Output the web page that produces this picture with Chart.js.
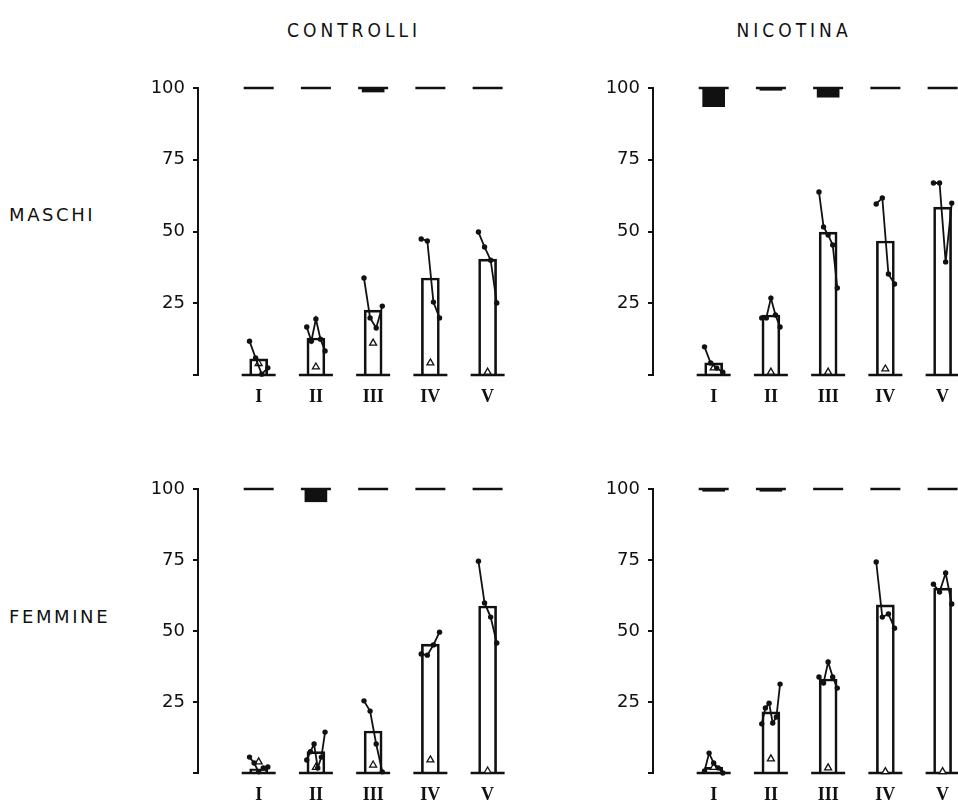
<!DOCTYPE html>
<html>
<head>
<meta charset="utf-8">
<script src="https://cdn.jsdelivr.net/npm/chart.js@4.4.1/dist/chart.umd.min.js"></script>
<style>
  html, body { margin: 0; padding: 0; background: #fff; width: 958px; height: 809px; overflow: hidden; }
  .lbl { position: absolute; color: #111; white-space: nowrap; }
  .col { font-family: "Liberation Sans Narrow", "DejaVu Sans Condensed", "DejaVu Sans", sans-serif; font-size: 19px; letter-spacing: 4px; top: 19px; transform: translateX(-50%); }
  .row { font-family: "DejaVu Sans", sans-serif; font-size: 18px; letter-spacing: 2.6px; left: 9px; }
  canvas { position: absolute; }
</style>
</head>
<body>
<div class="lbl col" style="left:354px">CONTROLLI</div>
<div class="lbl col" style="left:794px">NICOTINA</div>
<div class="lbl row" style="top:204px">MASCHI</div>
<div class="lbl row" style="top:606px">FEMMINE</div>

<canvas id="c-tl" width="430" height="360" style="left:100px;top:60px"></canvas>
<canvas id="c-tr" width="430" height="360" style="left:555px;top:60px"></canvas>
<canvas id="c-bl" width="430" height="357" style="left:100px;top:461px"></canvas>
<canvas id="c-br" width="430" height="357" style="left:555px;top:461px"></canvas>

<script>
const categories = ['I', 'II', 'III', 'IV', 'V']
const yTickValues = [0, 25, 50, 75, 100]

// CONTROLLI - MASCHI
const ctrlMaleBars      = [5.6, 12.9, 22.6, 33.8, 40.4]
const ctrlMaleTriangles = [4, 2.8, 11.1, 4.2, 1]
const ctrlMaleBlocks    = [null, null, 98.6, null, null]
const ctrlMaleLines     = [
  [11.8, 5.9, 0.3, 2.5],
  [16.7, 11.8, 19.5, 12.5, 8.4],
  [33.8, 19.9, 16.4, 24],
  [47.4, 46.7, 25.4, 19.9],
  [49.8, 44.6, 40, 25.1]
]

// NICOTINA - MASCHI
const nicMaleBars      = [4.2, 20.9, 49.8, 46.7, 58.5]
const nicMaleTriangles = [2.5, 1, 1, 2.1, null]
const nicMaleBlocks    = [93.5, 99.2, 96.8, null, null]
const nicMaleLines     = [
  [9.8, 4.2, 2.4, 1.0],
  [19.9, 19.9, 26.8, 20.9, 16.7],
  [63.8, 51.6, 48.8, 45.3, 30.3],
  [59.6, 61.7, 35.2, 31.7],
  [66.9, 66.9, 39.4, 59.9]
]

// CONTROLLI - FEMMINE
const ctrlFemBars      = [1.5, 7.5, 14.8, 45.4, 58.8]
const ctrlFemTriangles = [3.9, 2, 2.8, 4.6, 0.7]
const ctrlFemBlocks    = [null, 95.5, null, null, null]
const ctrlFemLines     = [
  [5.6, 3.5, 0.4, 1.8, 2.1],
  [4.6, 7.5, 10.2, 1.8, 5.6, 14.4],
  [25.4, 21.8, 10.2, 0.4],
  [41.9, 41.5, 45.1, 49.6],
  [74.6, 59.9, 54.9, 45.8]
]

// NICOTINA - FEMMINE
const nicFemBars      = [2, 21.5, 33.1, 59.2, 65.1]
const nicFemTriangles = [2, 5, 1.8, 0.5, 0.5]
const nicFemBlocks    = [99.2, 99.2, null, null, null]
const nicFemLines     = [
  [0.7, 7, 3.5, 1.8, 0],
  [17.3, 22.9, 24.6, 17.6, 19.7, 31.3],
  [33.8, 31.7, 39.1, 33.8, 29.9],
  [74.3, 54.9, 56, 51],
  [66.5, 63.7, 70.4, 59.5]
]

const ink = '#111'
const spread = 0.32   // width (in category units) over which the single values are spread

function linePoints(vals, c) {
  return vals.map((v, j) => ({ x: c + (j / (vals.length - 1) - 0.5) * spread, y: v }))
}

function buildPanel(id, bars, lines, triangles, blocks) {
  const datasets = []
  lines.forEach((vals, i) => datasets.push({
    type: 'line', data: linePoints(vals, i + 1),
    borderColor: ink, borderWidth: 1.8, tension: 0,
    pointRadius: 2.7, pointBackgroundColor: ink, pointBorderColor: ink, pointBorderWidth: 0,
    order: 1, clip: false
  }))
  datasets.push({
    type: 'scatter',
    data: triangles.map((v, i) => v == null ? null : { x: i + 1, y: v }).filter(Boolean),
    pointStyle: 'triangle', pointRadius: 4,
    pointBackgroundColor: '#fff', pointBorderColor: ink, pointBorderWidth: 1.3,
    order: 2, clip: false
  })
  // short dash at 100 and base segment at 0 under every group
  datasets.push({
    type: 'scatter', data: categories.map((c, i) => ({ x: i + 1, y: 100 })),
    pointStyle: 'line', pointRadius: 15, pointBorderColor: ink, pointBorderWidth: 2.5,
    order: 3, clip: false
  })
  datasets.push({
    type: 'scatter', data: categories.map((c, i) => ({ x: i + 1, y: 0 })),
    pointStyle: 'line', pointRadius: 17, pointBorderColor: ink, pointBorderWidth: 2.5,
    order: 3, clip: false
  })
  datasets.push({
    type: 'bar',
    data: blocks.map((v, i) => v == null ? null : { x: i + 1, y: [v, 100] }).filter(Boolean),
    backgroundColor: ink, borderWidth: 0, barThickness: 22, grouped: false,
    order: 4, clip: false
  })
  datasets.push({
    type: 'bar', data: bars.map((v, i) => ({ x: i + 1, y: v })),
    backgroundColor: 'rgba(0,0,0,0)', borderColor: ink, borderWidth: 2,
    barThickness: 18, grouped: false, order: 5
  })

  return new Chart(document.getElementById(id), {
    type: 'bar',
    data: { datasets },
    options: {
      responsive: false, animation: false, devicePixelRatio: 1,
      layout: { padding: { top: 28, right: 0, left: 0, bottom: 0 } },
      plugins: { legend: { display: false }, tooltip: { enabled: false } },
      scales: {
        x: {
          type: 'linear', min: -0.06, max: 5.40, offset: false,
          grid: { display: false, drawTicks: false, offset: false }, border: { display: false },
          afterBuildTicks: s => { s.ticks = categories.map((c, i) => ({ value: i + 1 })) },
          afterFit: s => { s.height = 45 },
          ticks: {
            autoSkip: false, maxRotation: 0, padding: 12, color: ink,
            font: { family: '"Liberation Serif", "DejaVu Serif", serif', size: 18, weight: 'bold' },
            callback: v => categories[v - 1] ?? ''
          }
        },
        y: {
          min: 0, max: 100,
          afterBuildTicks: s => { s.ticks = yTickValues.map(v => ({ value: v })) },
          afterFit: s => { s.width = 98 },
          grid: { drawOnChartArea: false, drawTicks: true, tickLength: 5, color: ink, lineWidth: 2 },
          border: { display: true, color: ink, width: 2 },
          ticks: {
            padding: 8, color: ink,
            font: { family: '"DejaVu Sans", sans-serif', size: 18 },
            callback: v => v === 0 ? '' : v
          }
        }
      }
    }
  })
}

buildPanel('c-tl', ctrlMaleBars, ctrlMaleLines, ctrlMaleTriangles, ctrlMaleBlocks)
buildPanel('c-tr', nicMaleBars, nicMaleLines, nicMaleTriangles, nicMaleBlocks)
buildPanel('c-bl', ctrlFemBars, ctrlFemLines, ctrlFemTriangles, ctrlFemBlocks)
buildPanel('c-br', nicFemBars, nicFemLines, nicFemTriangles, nicFemBlocks)
</script>
</body>
</html>
